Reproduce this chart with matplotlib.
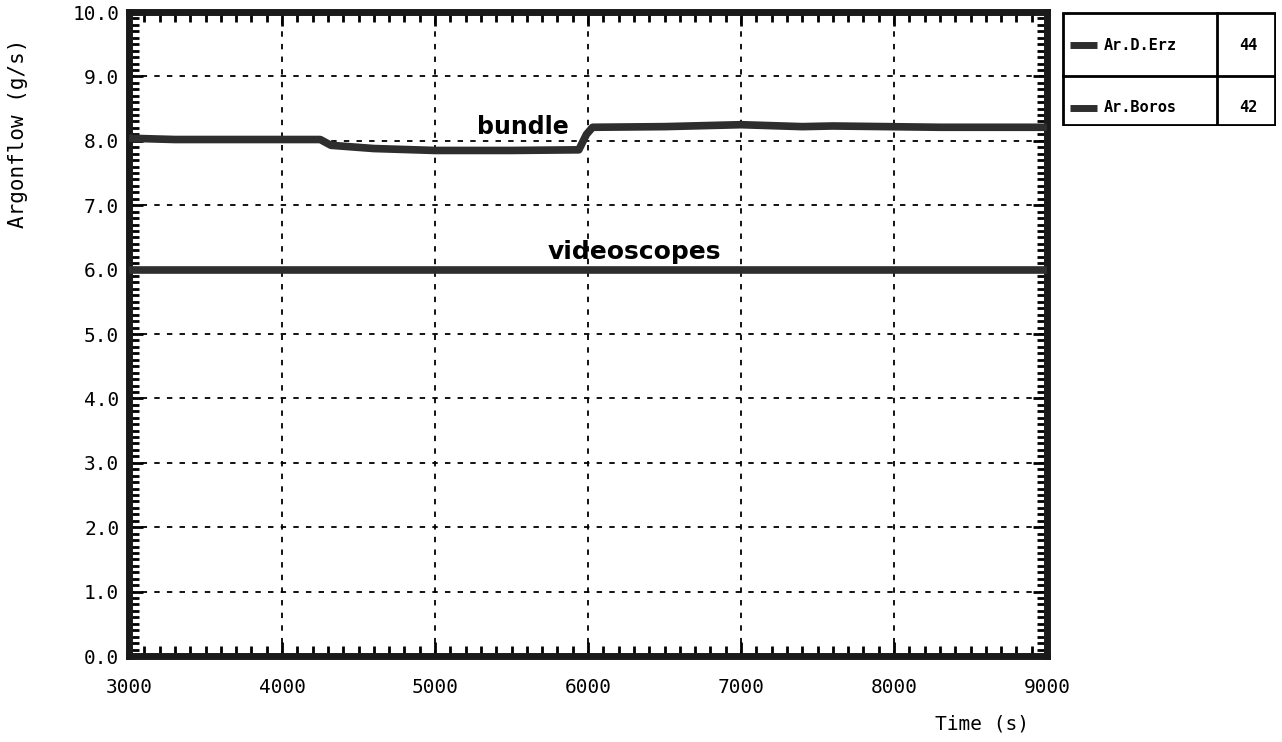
import numpy as np
import matplotlib.pyplot as plt
from matplotlib.ticker import MultipleLocator
from matplotlib.patches import Rectangle

# data
bundleTime = [3000, 3300, 4250, 4320, 4600, 5000, 5500, 5940, 5990, 6030, 6500, 7000, 7400, 7600, 8300, 9000]
bundleFlow = [8.04, 8.02, 8.02, 7.93, 7.88, 7.85, 7.85, 7.86, 8.10, 8.21, 8.22, 8.25, 8.22, 8.23, 8.21, 8.21]
videoTime = [3000, 4500, 6000, 7500, 9000]
videoFlow = [6.0, 6.0, 6.0, 6.0, 6.0]

legendNames = ['Ar.D.Erz', 'Ar.Boros']
legendCodes = ['44', '42']

W, H = 1282, 742
lineCol = '#2e2e2e'
mono = ['DejaVu Sans Mono']

fig = plt.figure(figsize=(W/100, H/100), dpi=100)

def px_axes(x0, y0, x1, y1):
    # axes from pixel box (top-left origin)
    return fig.add_axes([x0/W, 1 - y1/H, (x1-x0)/W, (y1-y0)/H])

ax = px_axes(129, 12, 1047, 656)

ax.plot(bundleTime, bundleFlow, color=lineCol, lw=5.5, solid_capstyle='butt', zorder=3)
ax.plot(videoTime, videoFlow, color=lineCol, lw=5.5, solid_capstyle='butt', zorder=3)

ax.text(5575, 8.22, 'bundle', ha='center', va='center', fontsize=17, fontweight='bold',
        family=['Liberation Sans Narrow', 'DejaVu Sans'], zorder=4)
ax.text(6300, 6.27, 'videoscopes', ha='center', va='center', fontsize=18, fontweight='bold',
        family=['Liberation Sans Narrow', 'DejaVu Sans'], zorder=4)

ax.set_xlim(3000, 9000)
ax.set_ylim(0, 10)
ax.xaxis.set_major_locator(MultipleLocator(1000))
ax.xaxis.set_minor_locator(MultipleLocator(100))
ax.yaxis.set_major_locator(MultipleLocator(1))
ax.yaxis.set_minor_locator(MultipleLocator(0.1))
ax.set_yticklabels(['%.1f' % v for v in ax.get_yticks()])

ax.grid(True, which='major', color='black', lw=1.3, ls=(0, (3, 4)))
for s in ax.spines.values():
    s.set_linewidth(5)
    s.set_color('#1a1a1a')

ax.tick_params(which='both', direction='in', top=True, right=True, color='black')
ax.tick_params(which='major', length=10, width=2)
ax.tick_params(which='minor', length=7, width=2)
ax.tick_params(axis='x', which='major', pad=16, labelsize=14)
ax.tick_params(axis='y', which='major', pad=7, labelsize=14)
for lab in ax.get_xticklabels() + ax.get_yticklabels():
    lab.set_family(mono)
xlabs = ax.get_xticklabels()
xlabs[0].set_ha('left')

fig.text(18/W, 1 - 133/H, 'Argonflow (g/s)', rotation=90, ha='center', va='center',
         fontsize=15, family=mono)
fig.text(982/W, 1 - 724/H, 'Time (s)', ha='center', va='center', fontsize=14, family=mono)

# legend table
lg = px_axes(1062, 12, 1276, 126)
lg.set_xlim(1062, 1276)
lg.set_ylim(126, 12)
lg.axis('off')
lg.add_patch(Rectangle((1063, 13), 212, 112, fill=False, lw=2, ec='black'))
lg.plot([1217, 1217], [13, 125], color='black', lw=2)
lg.plot([1063, 1275], [76, 76], color='black', lw=2)
rowY = [45, 108]
for name, code, y in zip(legendNames, legendCodes, rowY):
    lg.plot([1070, 1097], [y, y], color=lineCol, lw=5, solid_capstyle='butt')
    lg.text(1104, y, name, ha='left', va='center', fontsize=11, fontweight='bold', family=mono)
    lg.text(1248, y, code, ha='center', va='center', fontsize=11, fontweight='bold', family=mono)

fig.savefig('out.png', dpi=100)
